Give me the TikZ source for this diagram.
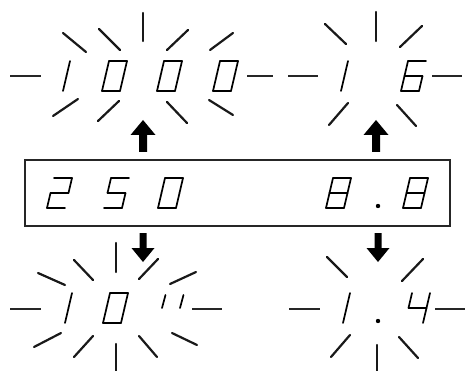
\documentclass[tikz,border=0pt]{standalone}
\usetikzlibrary{calc}
\newcommand\segw{18}
\newcommand\segs{7}
\newcommand\segh{30}
% seven-segment digit: x0, ytop, list of segment end pairs
\newcommand\segdigit[3]{%
  \begin{scope}[shift={(#1,#2)}]
    \coordinate (TL) at (\segs,0);
    \coordinate (TR) at (\segs+\segw,0);
    \coordinate (ML) at (\segs/2,\segh/2);
    \coordinate (MR) at (\segs/2+\segw,\segh/2);
    \coordinate (BL) at (0,\segh);
    \coordinate (BR) at (\segw,\segh);
    \foreach \p/\q in {#3} {\draw[digit] (\p) -- (\q);}
  \end{scope}}
\tikzset{
  digit/.style={line width=1.7pt, line cap=round, line join=round, black},
  ray/.style={line width=2.2pt, line cap=round, black!90},
  dashbar/.style={line width=2pt, black!85},
  arrowshape/.style={fill=black, draw=none},
  frame/.style={line width=1.3pt, draw=black!85},
}
\begin{document}
\begin{tikzpicture}[x=1pt,y=-1pt]
\useasboundingbox (0,0) rectangle (465,371);

% ---------- top-left: 1000 ----------
\draw[dashbar] (10,76) -- (41,76);
\draw[dashbar] (247,76) -- (273,76);
\segdigit{45}{61}{TR/MR,MR/BR}
\segdigit{102}{61}{TL/TR,TR/MR,MR/BR,BR/BL,BL/ML,ML/TL}
\segdigit{157}{61}{TL/TR,TR/MR,MR/BR,BR/BL,BL/ML,ML/TL}
\segdigit{213}{61}{TL/TR,TR/MR,MR/BR,BR/BL,BL/ML,ML/TL}
\draw[ray] (143,13) -- (143,41);
\draw[ray] (63,33) -- (86,52);
\draw[ray] (99,29) -- (120,50);
\draw[ray] (167,50) -- (188,30);
\draw[ray] (210,50) -- (233,33);
\draw[ray] (53,116) -- (78,99);
\draw[ray] (98,121) -- (119,101);
\draw[ray] (167,102) -- (187,123);
\draw[ray] (209,100) -- (233,115);

% ---------- top-right: 16 ----------
\draw[dashbar] (288,76) -- (318,76);
\draw[dashbar] (432,76) -- (462,76);
\segdigit{323}{61}{TR/MR,MR/BR}
\segdigit{401}{61}{TL/TR,TL/ML,ML/MR,ML/BL,BL/BR,MR/BR}
\draw[ray] (376,12) -- (376,41);
\draw[ray] (325,24) -- (346,44);
\draw[ray] (400,47) -- (422,26);
\draw[ray] (329,125) -- (348,103);
\draw[ray] (397,105) -- (416,126);

% ---------- up arrows ----------
\foreach \c in {143,376} {
  \fill[arrowshape] (\c,120) -- (\c+12.5,135) -- (\c+4,135) -- (\c+4,152)
    -- (\c-4,152) -- (\c-4,135) -- (\c-12.5,135) -- cycle;
}

% ---------- central display: 250  8.8 ----------
\draw[frame] (25,160) rectangle (450,226);
\segdigit{47}{178}{TL/TR,TR/MR,MR/ML,ML/BL,BL/BR}
\segdigit{104}{178}{TL/TR,TL/ML,ML/MR,MR/BR,BR/BL}
\segdigit{158}{178}{TL/TR,TR/MR,MR/BR,BR/BL,BL/ML,ML/TL}
\segdigit{326}{178}{TL/TR,TR/MR,MR/BR,BR/BL,BL/ML,ML/TL,ML/MR}
\fill (378,206) circle (2.2);
\segdigit{403}{178}{TL/TR,TR/MR,MR/BR,BR/BL,BL/ML,ML/TL,ML/MR}

% ---------- down arrows ----------
\foreach \c in {143,378} {
  \fill[arrowshape] (\c,262) -- (\c+11.5,248) -- (\c+3.5,248) -- (\c+3.5,233)
    -- (\c-3.5,233) -- (\c-3.5,248) -- (\c-11.5,248) -- cycle;
}

% ---------- bottom-left: 10'' ----------
\draw[dashbar] (10,309) -- (41,309);
\draw[dashbar] (192,309) -- (222,309);
\segdigit{47}{293}{TR/MR,MR/BR}
\segdigit{103}{293}{TL/TR,TR/MR,MR/BR,BR/BL,BL/ML,ML/TL}
\draw[digit] (165.5,295) -- (162,308);
\draw[digit] (183.5,295) -- (180,308);
\draw[ray] (116,243) -- (116,272);
\draw[ray] (116,344) -- (116,371);
\draw[ray] (38,273) -- (65,285);
\draw[ray] (74,260) -- (93,280);
\draw[ray] (139,279) -- (158,259);
\draw[ray] (170,284) -- (196,272);
\draw[ray] (34,347) -- (61,333);
\draw[ray] (74,357) -- (93,336);
\draw[ray] (139,336) -- (157,357);
\draw[ray] (172,333) -- (197,345);

% ---------- bottom-right: 1.4 ----------
\draw[dashbar] (289,309) -- (320,309);
\draw[dashbar] (435,309) -- (465,309);
\segdigit{325}{293}{TR/MR,MR/BR}
\fill (378,321) circle (2.2);
\segdigit{405}{293}{TL/ML,ML/MR,TR/MR,MR/BR}
\draw[ray] (327,257) -- (347,277);
\draw[ray] (402,281) -- (423,259);
\draw[ray] (331,357) -- (350,335);
\draw[ray] (399,337) -- (418,358);
\draw[ray] (377,345) -- (377,371);
\end{tikzpicture}
\end{document}
